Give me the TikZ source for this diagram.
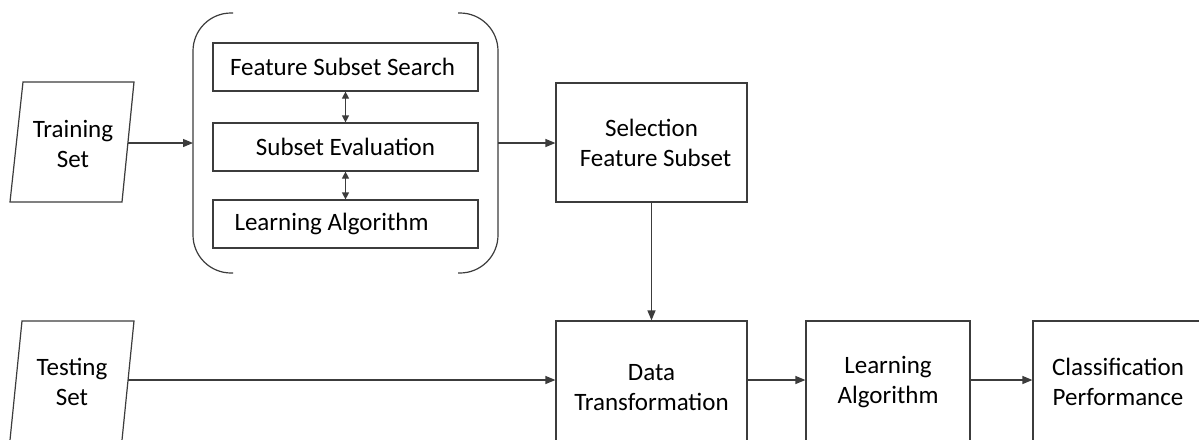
\documentclass[tikz,border=0pt]{standalone}
\usepackage{fontspec}
\setmainfont{Carlito}
\usetikzlibrary{arrows.meta}
\definecolor{linec}{RGB}{60,60,60}
\begin{document}
\begin{tikzpicture}[x=1pt,y=-1pt,
  line/.style={draw=linec, line width=1.2pt},
  box/.style={draw=linec, line width=1.2pt, fill=white, inner sep=0pt},
  lbl/.style={font=\fontsize{25}{30}\selectfont, align=center, text=black},
  arr/.style={line, -{Triangle[length=10pt,width=8pt]}},
  darr/.style={line, {Triangle[length=7pt,width=7pt]}-{Triangle[length=7pt,width=7pt]}}]
\clip (0,0) rectangle (1199,439);
\fill[white] (0,0) rectangle (1199,439);
% parallelograms
\draw[line] (23,82) -- (134,82) -- (122,202) -- (10,202) -- cycle;
\node[lbl] (train) at (73,144) {Training\\Set};
\coordinate (trainR) at (128,143);
\draw[line] (22,321) -- (134,321) -- (121,450) -- (9,450) -- cycle;
\node[lbl] (test) at (72,382) {Testing\\Set};
\coordinate (testR) at (128,380);
% bracket container
\draw[line, rounded corners=38pt] (233,13) -- (193,13) -- (193,273) -- (233,273);
\draw[line, rounded corners=38pt] (458,13) -- (498,13) -- (498,273) -- (458,273);
\coordinate (brL) at (193,143);
\coordinate (brR) at (498,143);
% inner boxes
\node[box, lbl, minimum width=265pt, minimum height=48pt] (fss) at (345.5,67) {Feature Subset Search\hspace*{6pt}};
\node[box, lbl, minimum width=265pt, minimum height=48pt] (se) at (345.5,147) {Subset Evaluation};
\node[box, lbl, minimum width=265pt, minimum height=48pt] (la1) at (345.5,224) {Learning Algorithm\hspace*{28pt}};
\draw[darr] (fss.south) -- (se.north);
\draw[darr] (se.south) -- (la1.north);
% right boxes
\node[box, lbl, minimum width=191pt, minimum height=119pt] (sel) at (651.5,142.5) {Selection\\\hspace*{8pt}Feature Subset};
\node[box, lbl, minimum width=191pt, minimum height=134pt] (data) at (651.5,388) {Data\\Transformation};
\node[box, lbl, minimum width=164pt, minimum height=122pt] (learn) at (888,382) {Learning\\Algorithm};
\node[box, lbl, minimum width=170pt, minimum height=122pt] (cls) at (1118,382) {Classification\\Performance};
% connectors
\draw[arr] (trainR) -- (brL);
\draw[arr] (brR) -- (sel.west |- brR);
\draw[arr] (sel.south) -- (data.north);
\draw[arr] (testR) -- (data.west |- testR);
\draw[arr] (data.east |- testR) -- (learn.west |- testR);
\draw[arr] (learn.east |- testR) -- (cls.west |- testR);
\end{tikzpicture}
\end{document}
